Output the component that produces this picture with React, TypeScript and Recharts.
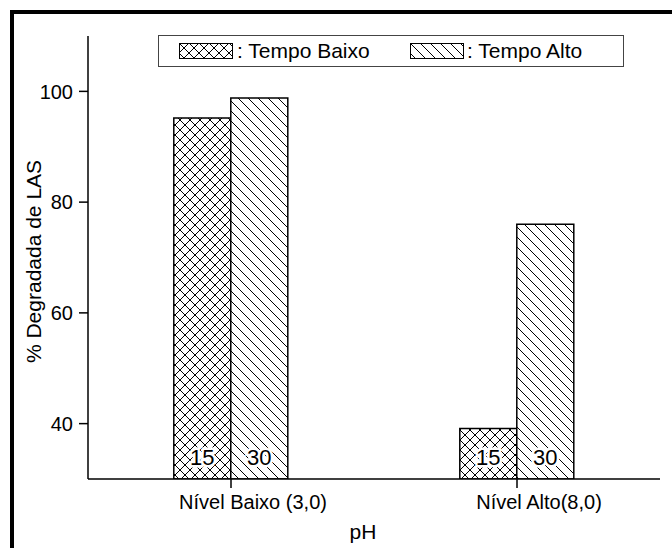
import React from "react";
import { BarChart, Bar, XAxis, YAxis, Legend, LabelList, Label } from "recharts";

const categories = ["Nível Baixo (3,0)", "Nível Alto(8,0)"];
const tempoBaixo = [95.2, 39.1];
const tempoAlto = [98.8, 76.0];
const seriesKeys = ["baixo", "alto"];
const seriesNames = ["Tempo Baixo", "Tempo Alto"];
const timeLabels = ["15", "30"];
const yTicks = [40, 60, 80, 100];
const yDomain = [30, 110];

const data = categories.map((c, i) => ({
  category: c,
  baixo: tempoBaixo[i],
  alto: tempoAlto[i],
}));

const FONT = '"Liberation Sans", Arial, Helvetica, sans-serif';

const CrossPattern = ({ id }: { id: string }) => (
  <pattern id={id} patternUnits="userSpaceOnUse" width={10} height={10}>
    <rect width={10} height={10} fill="#fff" />
    <path d="M0,0 L10,10 M10,0 L0,10" stroke="#000" strokeWidth={1} />
  </pattern>
);

const DiagPattern = ({ id }: { id: string }) => (
  <pattern id={id} patternUnits="userSpaceOnUse" width={10} height={10}>
    <rect width={10} height={10} fill="#fff" />
    <path d="M0,0 L10,10 M-1,9 L1,11 M9,-1 L11,1" stroke="#000" strokeWidth={1} />
  </pattern>
);

const renderXTick = (props: any) => {
  const { x, y, payload } = props;
  return (
    <text x={x + 22} y={y} dy="0.71em" textAnchor="middle" fontSize={20} fill="#000" fontFamily={FONT}>
      {payload.value}
    </text>
  );
};

const renderYTick = (props: any) => {
  const { x, y, payload } = props;
  return (
    <text x={x} y={y} dy="0.36em" textAnchor="end" fontSize={20} fill="#000" fontFamily={FONT}>
      {payload.value}
    </text>
  );
};

const makeBarLabel = (text: string) => (props: any) => {
  const { x, y, width, height } = props;
  const cx = x + width / 2;
  const by = y + height - 22;
  return (
    <text
      x={cx}
      y={by}
      dy="0.36em"
      textAnchor="middle"
      fontSize={22}
      fill="#000"
      stroke="#fff"
      strokeWidth={5}
      paintOrder="stroke"
      fontFamily={FONT}
    >
      {text}
    </text>
  );
};

const renderLegend = (props: any) => {
  const payload = props.payload || [];
  const ordered = seriesKeys
    .map((k) => payload.find((p: any) => p.dataKey === k))
    .filter(Boolean);
  const swLeft = [20, 251];
  const txLeft = [78, 308];
  return (
    <div
      style={{
        position: "relative",
        width: 466,
        height: 32,
        border: "1.5px solid #444",
        boxSizing: "border-box",
        background: "#fff",
        fontFamily: FONT,
        fontSize: 21,
        color: "#000",
      }}
    >
      {ordered.map((item: any, i: number) => (
        <React.Fragment key={i}>
          <svg
            width={54}
            height={16}
            style={{ position: "absolute", left: swLeft[i], top: 7 }}
          >
            <defs>
              {i === 0 ? <CrossPattern id="lg-cross" /> : <DiagPattern id="lg-diag" />}
            </defs>
            <rect
              x={0.5}
              y={0.5}
              width={53}
              height={15}
              fill={i === 0 ? "url(#lg-cross)" : "url(#lg-diag)"}
              stroke="#000"
              strokeWidth={1}
            />
          </svg>
          <span
            style={{
              position: "absolute",
              left: txLeft[i],
              top: 3,
              lineHeight: "24px",
              whiteSpace: "nowrap",
            }}
          >
            : {item.value}
          </span>
        </React.Fragment>
      ))}
    </div>
  );
};

export default function App() {
  return (
    <div
      style={{
        position: "absolute",
        left: 0,
        top: 0,
        width: 672,
        height: 548,
        overflow: "hidden",
        background: "#fff",
        fontFamily: FONT,
      }}
    >
      <div
        style={{
          position: "absolute",
          left: 10,
          top: 10,
          width: 720,
          height: 620,
          border: "4px solid #000",
          boxSizing: "border-box",
        }}
      />
      <div style={{ position: "absolute", left: 0, top: 0 }}>
        <BarChart
          width={672}
          height={548}
          data={data}
          margin={{ top: 36, right: 12, left: 0, bottom: 0 }}
          barCategoryGap="30%"
          barGap={0}
        >
          <defs>
            <CrossPattern id="pat-cross" />
            <DiagPattern id="pat-diag" />
          </defs>
          <XAxis
            dataKey="category"
            height={69}
            tickSize={9}
            tickMargin={7}
            interval={0}
            axisLine={{ stroke: "#000", strokeWidth: 1.5 }}
            tickLine={{ stroke: "#000", strokeWidth: 1.5 }}
            tick={renderXTick}
          >
            <Label
              content={(p: any) => {
                const vb = p.viewBox;
                return (
                  <text
                    x={vb.x + vb.width / 2 - 11}
                    y={vb.y + 60}
                    textAnchor="middle"
                    fontSize={21}
                    fill="#000"
                    fontFamily={FONT}
                  >
                    pH
                  </text>
                );
              }}
            />
          </XAxis>
          <XAxis
            xAxisId="top"
            orientation="top"
            dataKey="category"
            height={0}
            tick={false}
            tickLine={false}
            axisLine={{ stroke: "#333", strokeWidth: 1 }}
          />
          <YAxis
            domain={yDomain}
            ticks={yTicks}
            width={88}
            tickSize={9}
            tickMargin={6}
            axisLine={{ stroke: "#000", strokeWidth: 1.5 }}
            tickLine={{ stroke: "#000", strokeWidth: 1.5 }}
            tick={renderYTick}
            allowDataOverflow
          >
            <Label
              content={(p: any) => {
                const vb = p.viewBox;
                const cx = vb.x + 33;
                const cy = vb.y + vb.height / 2 + 4;
                return (
                  <text
                    x={cx}
                    y={cy}
                    transform={`rotate(-90 ${cx} ${cy})`}
                    textAnchor="middle"
                    dy="0.36em"
                    fontSize={21}
                    fill="#000"
                    fontFamily={FONT}
                  >
                    % Degradada de LAS
                  </text>
                );
              }}
            />
          </YAxis>
          <YAxis
            yAxisId="right"
            orientation="right"
            domain={yDomain}
            width={0}
            tick={false}
            tickLine={false}
            axisLine={{ stroke: "#333", strokeWidth: 1 }}
          />
          <Legend
            layout="horizontal"
            verticalAlign="middle"
            align="center"
            content={renderLegend}
            wrapperStyle={{ position: "absolute", left: 158, top: 35, width: 466, height: 32 }}
          />
          <Bar
            dataKey="baixo"
            name={seriesNames[0]}
            fill="url(#pat-cross)"
            stroke="#000"
            strokeWidth={1.5}
            isAnimationActive={false}
          >
            <LabelList dataKey="baixo" content={makeBarLabel(timeLabels[0])} />
          </Bar>
          <Bar
            dataKey="alto"
            name={seriesNames[1]}
            fill="url(#pat-diag)"
            stroke="#000"
            strokeWidth={1.5}
            isAnimationActive={false}
          >
            <LabelList dataKey="alto" content={makeBarLabel(timeLabels[1])} />
          </Bar>
        </BarChart>
      </div>
    </div>
  );
}
